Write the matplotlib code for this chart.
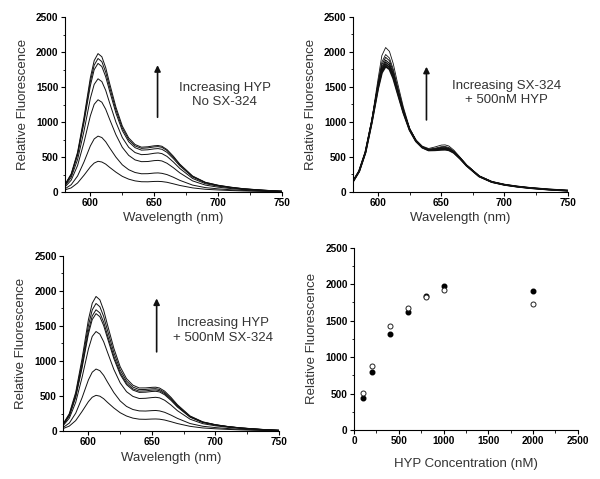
import matplotlib.pyplot as plt
from matplotlib.ticker import MultipleLocator

plt.rcParams['font.family'] = ['Liberation Sans', 'DejaVu Sans']

# wavelength grid (nm) at which the curves were read
wl = [580, 585, 590, 595, 600, 603, 606, 609, 612, 615, 620, 625, 630, 635, 640,
      645, 650, 653, 656, 660, 665, 670, 680, 690, 700, 710, 720, 735, 750]

# panel A: increasing HYP, no SX-324
hyp_only = [
    [30, 60, 130, 240, 360, 415, 440, 430, 400, 355, 285, 225, 185, 160, 148, 147, 152, 153, 150, 140, 118, 95, 60, 40, 30, 22, 16, 10, 5],
    [45, 105, 230, 430, 660, 760, 800, 780, 720, 635, 500, 390, 320, 280, 262, 263, 272, 274, 268, 250, 212, 168, 100, 64, 46, 33, 24, 14, 7],
    [70, 170, 380, 710, 1090, 1255, 1320, 1285, 1185, 1045, 820, 640, 525, 460, 435, 437, 450, 453, 445, 412, 348, 275, 160, 100, 70, 50, 35, 20, 9],
    [85, 210, 465, 870, 1340, 1540, 1620, 1580, 1455, 1280, 1000, 780, 640, 565, 535, 540, 555, 560, 550, 510, 430, 338, 195, 120, 84, 60, 42, 24, 11],
    [95, 240, 530, 990, 1520, 1750, 1840, 1795, 1650, 1450, 1130, 880, 720, 635, 600, 605, 618, 622, 612, 568, 478, 375, 215, 132, 92, 65, 45, 26, 12],
    [100, 250, 550, 1030, 1580, 1815, 1910, 1865, 1715, 1505, 1175, 915, 750, 660, 625, 632, 646, 650, 640, 594, 500, 392, 225, 138, 96, 68, 47, 27, 12],
    [105, 260, 570, 1065, 1635, 1880, 1980, 1935, 1780, 1560, 1215, 945, 775, 680, 642, 648, 662, 666, 655, 608, 512, 400, 230, 140, 98, 70, 48, 28, 12],
]

# panel B: increasing SX-324 + 500nM HYP
sx_series = [
    [140, 290, 560, 990, 1475, 1700, 1790, 1750, 1620, 1435, 1130, 880, 720, 630, 590, 592, 598, 600, 592, 555, 470, 372, 218, 138, 98, 72, 52, 30, 14],
    [140, 290, 560, 992, 1490, 1725, 1820, 1778, 1645, 1452, 1138, 882, 722, 632, 592, 596, 608, 610, 600, 558, 472, 373, 218, 138, 98, 72, 52, 30, 14],
    [140, 290, 561, 995, 1505, 1752, 1850, 1806, 1668, 1468, 1146, 885, 724, 634, 595, 601, 615, 617, 606, 562, 474, 374, 219, 138, 98, 72, 52, 30, 14],
    [140, 290, 562, 998, 1520, 1780, 1880, 1834, 1690, 1485, 1155, 888, 726, 636, 598, 606, 622, 624, 612, 566, 476, 375, 219, 138, 98, 72, 52, 30, 14],
    [140, 291, 564, 1002, 1540, 1815, 1920, 1872, 1722, 1508, 1168, 892, 729, 639, 602, 613, 632, 634, 621, 572, 479, 377, 220, 139, 98, 72, 52, 30, 14],
    [140, 291, 566, 1008, 1560, 1852, 1960, 1910, 1752, 1530, 1180, 896, 732, 642, 606, 620, 642, 645, 631, 578, 482, 379, 221, 139, 98, 72, 52, 30, 14],
    [141, 292, 570, 1020, 1610, 1945, 2060, 2005, 1830, 1585, 1210, 906, 740, 650, 616, 638, 665, 668, 652, 592, 490, 383, 223, 140, 99, 72, 52, 30, 14],
]

# panel C: increasing HYP + 500nM SX-324
hyp_sx = [
    [35, 72, 150, 280, 420, 483, 510, 498, 462, 410, 330, 262, 215, 185, 170, 168, 172, 173, 170, 158, 134, 108, 68, 45, 33, 24, 17, 10, 5],
    [50, 115, 255, 475, 730, 840, 885, 862, 795, 700, 550, 430, 352, 308, 288, 286, 292, 294, 288, 268, 228, 182, 108, 69, 50, 36, 26, 15, 7],
    [75, 185, 410, 765, 1170, 1350, 1420, 1383, 1275, 1125, 880, 688, 562, 495, 465, 468, 478, 482, 474, 440, 372, 292, 170, 106, 75, 54, 38, 21, 10],
    [88, 218, 482, 900, 1385, 1590, 1675, 1632, 1505, 1325, 1035, 808, 662, 585, 552, 555, 565, 568, 558, 518, 438, 344, 198, 122, 86, 61, 43, 24, 11],
    [90, 225, 498, 930, 1430, 1642, 1730, 1686, 1555, 1368, 1068, 834, 683, 603, 570, 574, 584, 587, 576, 535, 452, 355, 204, 126, 88, 63, 44, 25, 11],
    [95, 236, 524, 978, 1505, 1728, 1820, 1774, 1635, 1438, 1122, 874, 714, 628, 592, 594, 603, 605, 594, 551, 465, 365, 210, 129, 90, 64, 45, 25, 11],
    [100, 250, 553, 1032, 1588, 1823, 1920, 1872, 1725, 1516, 1182, 918, 748, 655, 615, 616, 624, 626, 614, 570, 481, 377, 216, 132, 92, 65, 46, 26, 11],
]

# panel D: peak fluorescence vs HYP concentration
conc = [100, 200, 400, 600, 800, 1000, 2000]
peak_no_sx = [440, 800, 1320, 1620, 1840, 1980, 1910]
peak_sx = [510, 885, 1420, 1675, 1820, 1920, 1730]


def style(ax):
    ax.spines['top'].set_visible(False)
    ax.spines['right'].set_visible(False)
    ax.set_ylim(0, 2500)
    ax.yaxis.set_major_locator(MultipleLocator(500))
    ax.yaxis.set_minor_locator(MultipleLocator(250))
    ax.tick_params(which='major', length=3, width=0.8, labelsize=7.2, pad=1.5)
    ax.tick_params(which='minor', length=1.8, width=0.6)
    for lab in ax.get_xticklabels() + ax.get_yticklabels():
        lab.set_fontweight('bold')
    ax.set_ylabel('Relative Fluorescence', fontsize=9.5, color='#333333', labelpad=5)


def spectra(ax, curves, lw_list, arrow, text_xy, text):
    for c, lw in zip(curves, lw_list):
        ax.plot(wl, c, color='#111111', lw=lw)
    ax.set_xlim(580, 750)
    ax.xaxis.set_major_locator(MultipleLocator(50))
    ax.xaxis.set_minor_locator(MultipleLocator(25))
    style(ax)
    ax.set_xlabel('Wavelength (nm)', fontsize=9.5, color='#333333', labelpad=3)
    ax.annotate('', xy=(arrow[0], arrow[2]), xytext=(arrow[0], arrow[1]),
                arrowprops=dict(arrowstyle='-|>', color='#111111', lw=1.2,
                                mutation_scale=9, shrinkA=0, shrinkB=0))
    ax.text(text_xy[0], text_xy[1], text, ha='center', va='center',
            fontsize=9.5, color='#333333', linespacing=1.25)


fig = plt.figure(figsize=(6, 4.79), dpi=100)
ax1 = fig.add_axes([0.108, 0.599, 0.362, 0.365])
ax2 = fig.add_axes([0.588, 0.600, 0.358, 0.365])
ax3 = fig.add_axes([0.105, 0.100, 0.360, 0.366])
ax4 = fig.add_axes([0.590, 0.102, 0.373, 0.381])

spectra(ax1, hyp_only, [0.7] * 7, (652.6, 1070, 1815), (705, 1390),
        'Increasing HYP\nNo SX-324')
spectra(ax2, sx_series, [1.4, 1.2, 1.0, 0.8, 0.7, 0.6, 0.6], (638.3, 1025, 1786),
        (701.5, 1405), 'Increasing SX-324\n+ 500nM HYP')
spectra(ax3, hyp_sx, [0.7] * 7, (653.7, 1130, 1892), (706, 1433),
        'Increasing HYP\n+ 500nM SX-324')

ax4.plot(conc, peak_no_sx, 'o', color='black', ms=3.3)
ax4.plot(conc, peak_sx, 'o', mfc='white', mec='#222222', mew=0.7, ms=3.6)
ax4.set_xlim(0, 2500)
ax4.xaxis.set_major_locator(MultipleLocator(500))
ax4.xaxis.set_minor_locator(MultipleLocator(250))
style(ax4)
ax4.set_xlabel('HYP Concentration (nM)', fontsize=9.5, color='#333333', labelpad=8)

fig.savefig('out.png', dpi=100)
